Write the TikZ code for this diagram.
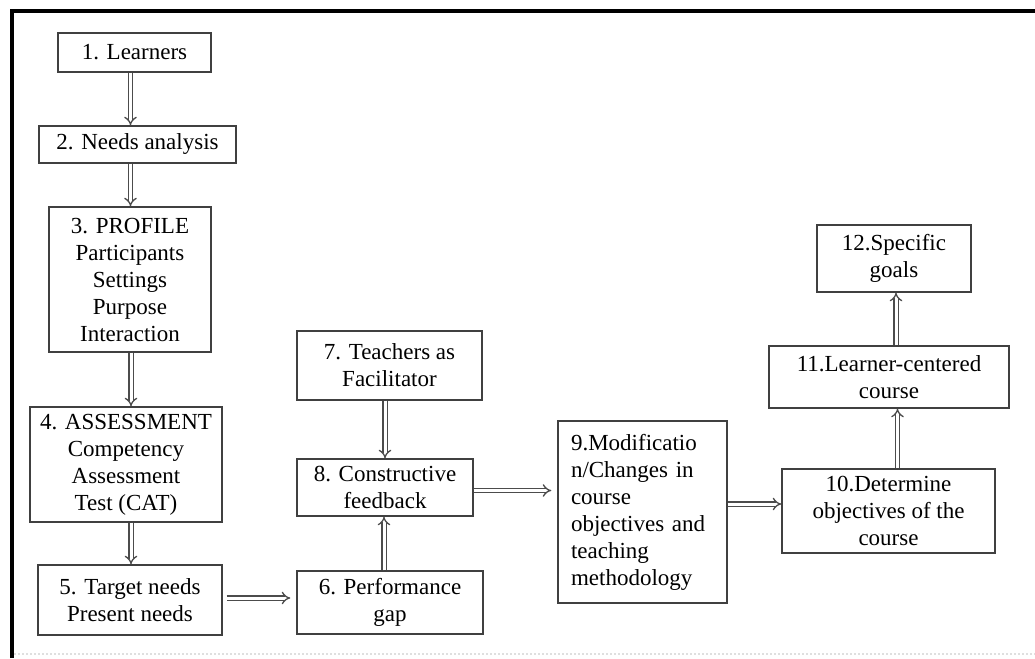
\documentclass[tikz,border=0pt]{standalone}
\usepackage{fontspec}
\setmainfont{Liberation Serif}
\usetikzlibrary{positioning,arrows.meta,calc}
\tikzset{
  stagebox/.style={draw=black!75, line width=1.4pt, fill=white, align=center, inner sep=4pt},
  leftbox/.style={draw=black!75, line width=1.4pt, fill=white, align=left, inner sep=13pt},
  dblarrow/.style={double=white, draw=black!70, line width=1.3pt, double distance=3pt, -{Implies[length=5pt]}},
  framerule/.style={line width=3.8pt, black}
}

\begin{document}
\begin{tikzpicture}[x=1pt, y=-1pt, every node/.style={font=\fontsize{23}{27}\selectfont}]
  \useasboundingbox (0,0) rectangle (1035,658);
  % outer frame
  \draw[framerule] (12,658) -- (12,11) -- (1035,11);
  \draw[gray!25, dotted, line width=2pt] (14,654) -- (1035,654);

  % left column
  \node[stagebox, minimum width=153pt, minimum height=39pt] (n1) at (134.5,52.5) {1. Learners};
  \node[stagebox, minimum width=197pt, minimum height=37pt] (n2) at (137.5,144.5) {2. Needs analysis};
  \node[stagebox, minimum width=162pt, minimum height=145pt] (n3) at (130,279.5) {3. PROFILE\\Participants\\Settings\\Purpose\\Interaction};
  \node[stagebox, minimum width=192pt, minimum height=115pt] (n4) at (126,464.5) {4. ASSESSMENT\\Competency\\Assessment\\Test (CAT)};
  \node[stagebox, minimum width=184pt, minimum height=70pt] (n5) at (130,600) {5. Target needs\\Present needs};

  % middle column
  \node[stagebox, minimum width=185pt, minimum height=69pt] (n7) at (389.5,365.5) {7. Teachers as\\Facilitator};
  \node[stagebox, minimum width=176pt, minimum height=57pt] (n8) at (385,487.5) {8. Constructive\\feedback};
  \node[stagebox, minimum width=186pt, minimum height=63pt] (n6) at (390,602.5) {6. Performance\\gap};
  \node[leftbox, text width=143pt, minimum height=180pt] (n9) at (642.5,512) {9.Modificatio\\n/Changes in\\course\\objectives and\\teaching\\methodology\\[-6pt]};

  % right column
  \node[stagebox, minimum width=213pt, minimum height=84pt] (n10) at (888.5,511) {10.Determine\\objectives of the\\course};
  \node[stagebox, minimum width=240pt, minimum height=62pt] (n11) at (889,377) {11.Learner-centered\\course};
  \node[stagebox, minimum width=154pt, minimum height=67pt] (n12) at (894,258.5) {12.Specific\\goals};

  % connectors
  \draw[dblarrow] ([xshift=-4pt]n1.south) -- ([xshift=-4pt]n1.south |- n2.north);
  \draw[dblarrow] ([xshift=-7pt]n2.south) -- ([xshift=-7pt]n2.south |- n3.north);
  \draw[dblarrow] ([xshift=1pt]n3.south) -- ([xshift=1pt]n3.south |- n4.north);
  \draw[dblarrow] ([xshift=1pt]n5.north |- n4.south) -- ([xshift=1pt]n5.north);
  \draw[dblarrow, shorten <=4pt, shorten >=6pt] ([yshift=2pt]n5.east) -- ([yshift=2pt]n5.east -| n6.west);
  \draw[dblarrow] ([xshift=-1pt]n8.south |- n6.north) -- ([xshift=-1pt]n8.south);
  \draw[dblarrow] (n8.north |- n7.south) -- (n8.north);
  \draw[dblarrow, shorten >=6pt] ([yshift=-3pt]n8.east) -- ([yshift=-3pt]n8.east -| n9.west);
  \draw[dblarrow] ([yshift=8pt]n9.east) -- ([yshift=8pt]n9.east -| n10.west);
  \draw[dblarrow] ([xshift=9pt]n10.north) -- ([xshift=9pt]n10.north |- n11.south);
  \draw[dblarrow] ([xshift=7pt]n11.north) -- ([xshift=7pt]n11.north |- n12.south);
\end{tikzpicture}
\end{document}
